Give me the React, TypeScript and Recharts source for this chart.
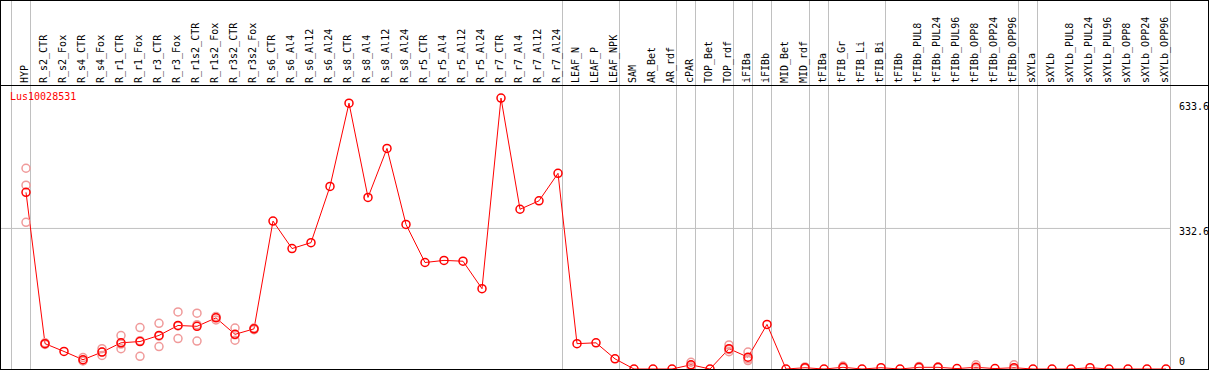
import React from 'react';
import { ComposedChart, Line, XAxis, YAxis, ReferenceLine } from 'recharts';

const title = 'Lus10028531';

const categories = [
  'HYP', 'R_s2_CTR', 'R_s2_Fox', 'R_s4_CTR', 'R_s4_Fox', 'R_r1_CTR', 'R_r1_Fox', 'R_r3_CTR', 'R_r3_Fox',
  'R_r1s2_CTR', 'R_r1s2_Fox', 'R_r3s2_CTR', 'R_r3s2_Fox', 'R_s6_CTR', 'R_s6_Al4', 'R_s6_Al12', 'R_s6_Al24',
  'R_s8_CTR', 'R_s8_Al4', 'R_s8_Al12', 'R_s8_Al24', 'R_r5_CTR', 'R_r5_Al4', 'R_r5_Al12', 'R_r5_Al24',
  'R_r7_CTR', 'R_r7_Al4', 'R_r7_Al12', 'R_r7_Al24', 'LEAF_N', 'LEAF_P', 'LEAF_NPK', 'SAM', 'AR_Bet', 'AR_rdf',
  'cPAR', 'TOP_Bet', 'TOP_rdf', 'iFIBa', 'iFIBb', 'MID_Bet', 'MID_rdf', 'tFIBa', 'tFIB_Gr', 'tFIB_Li', 'tFIB_Bi',
  'tFIBb', 'tFIBb_PUL8', 'tFIBb_PUL24', 'tFIBb_PUL96', 'tFIBb_OPP8', 'tFIBb_OPP24', 'tFIBb_OPP96',
  'sXYLa', 'sXYLb', 'sXYLb_PUL8', 'sXYLb_PUL24', 'sXYLb_PUL96', 'sXYLb_OPP8', 'sXYLb_OPP24', 'sXYLb_OPP96',
];

const means = [
  418, 60, 41.5, 22, 40, 62, 65, 79.5, 103, 101, 121, 82, 95, 350, 285, 299, 432,
  629, 406, 522, 342, 252, 257, 255, 190, 641, 378, 398, 463, 60, 62, 24, 0, 0, 0,
  10, 0, 48, 28, 105.5, 0, 3, 0, 4, 0, 3,
  0, 4, 4, 1, 4, 1, 3,
  0, 0, 0, 3, 0, 0, 0, 0,
];

const rep1 = [
  475, 62, null, 27, 48, 79, 98, 108, 135, 132, 124, 97, 97, null, null, null, null,
  null, null, null, null, null, null, null, null, null, null, null, null, null, null, null, null, null, null,
  16, null, 57, 40, null, null, 5, null, 7, null, null,
  null, 6, 5, null, 10, null, 10,
  null, null, null, null, null, null, null, null,
];
const rep2 = [
  435, 58, null, 20, 32, 48, 30, 53, 72, 66, 116, 68, 93, null, null, null, null,
  null, null, null, null, null, null, null, null, null, null, null, null, null, null, null, null, null, null,
  5, null, 41, 20, null, null, 2, null, 3, null, null,
  null, 3, 4, null, 1, null, 0,
  null, null, null, null, null, null, null, null,
];
const rep3 = [
  347, 60, null, 19, 40, 59, 67, 78, 102, 105, 123, 81, 95, null, null, null, null,
  null, null, null, null, null, null, null, null, null, null, null, null, null, null, null, null, null, null,
  9, null, 46, 24, null, null, 2, null, 2, null, null,
  null, 3, 3, null, 1, null, 0,
  null, null, null, null, null, null, null, null,
];

const yTicks = [0, 332.6, 633.6];
const groupEnds = [-1, 0, 28, 31, 34, 35, 37, 38, 39, 41, 42, 45, 52, 53, 60];

const data = categories.map((name, i) => ({
  x: i,
  name,
  mean: means[i],
  r1: rep1[i],
  r2: rep2[i],
  r3: rep3[i],
}));

const FONT = '"DejaVu Sans Mono", monospace';
const RED = '#ff0000';
const PINK = '#f09a9a';
const GRID = '#c0c0c0';

const W = 1209;
const H = 370;

const XTick = (props: any) => {
  const { x, payload } = props;
  return (
    <text
      x={0}
      y={0}
      transform={`translate(${x + 2},83) rotate(-90)`}
      textAnchor="start"
      fontFamily={FONT}
      fontSize={10}
      fill="#000"
    >
      {categories[payload.value]}
    </text>
  );
};

const YTick = (props: any) => {
  const { x, y, payload } = props;
  const dy = payload.value === 0 ? -4 : payload.value > 500 ? 9 : 7;
  return (
    <text x={x + 2} y={y + dy} textAnchor="start" fontFamily={FONT} fontSize={10} fill="#000">
      {String(payload.value)}
    </text>
  );
};

const SepLine = (props: any) => {
  const { x1 } = props;
  if (typeof x1 !== 'number') return null;
  const xx = Math.floor(x1) + 0.5;
  return <line x1={xx} x2={xx} y1={0} y2={H - 1} stroke={GRID} strokeWidth={1} />;
};

const repDot = { r: 4, stroke: PINK, strokeWidth: 1.5, fill: 'none' };

export default function App() {
  return (
    <div style={{ position: 'absolute', left: 0, top: 0, width: W, height: H, background: '#fff' }}>
      <ComposedChart
        width={W}
        height={H}
        data={data}
        margin={{ top: 0, right: 1, bottom: 1, left: 1 }}
      >
        <XAxis
          xAxisId={0}
          dataKey="x"
          type="number"
          orientation="top"
          domain={[-25 / 19, 1145 / 19]}
          allowDataOverflow
          ticks={categories.map((_, i) => i)}
          interval={0}
          height={85}
          axisLine={false}
          tickLine={false}
          tick={<XTick />}
        />
        <YAxis
          yAxisId={0}
          orientation="right"
          domain={[0, 672]}
          allowDataOverflow
          ticks={yTicks}
          interval={0}
          width={37}
          axisLine={false}
          tickLine={false}
          tickMargin={0}
          tick={<YTick />}
        />
        <ReferenceLine y={332.6} stroke={GRID} strokeWidth={1} />
        {groupEnds.map((g) => (
          <ReferenceLine key={g} x={g + 0.25} shape={<SepLine />} />
        ))}
        <Line dataKey="r1" stroke="none" dot={repDot} activeDot={false} isAnimationActive={false} legendType="none" />
        <Line dataKey="r2" stroke="none" dot={repDot} activeDot={false} isAnimationActive={false} legendType="none" />
        <Line dataKey="r3" stroke="none" dot={repDot} activeDot={false} isAnimationActive={false} legendType="none" />
        <Line
          dataKey="mean"
          stroke={RED}
          strokeWidth={1}
          dot={{ r: 4, stroke: RED, strokeWidth: 1.5, fill: 'none' }}
          activeDot={false}
          isAnimationActive={false}
        />
      </ComposedChart>
      <div
        style={{
          position: 'absolute', left: 0, top: 85, width: W, height: 1, background: '#000',
        }}
      />
      <div
        style={{
          position: 'absolute', left: 0, top: 0, width: W, height: H, boxSizing: 'border-box',
          border: '1px solid #000', pointerEvents: 'none',
        }}
      />
      <div
        style={{
          position: 'absolute', left: 10, top: 91, fontFamily: FONT, fontSize: 10, lineHeight: '12px',
          color: RED, whiteSpace: 'nowrap',
        }}
      >
        {title}
      </div>
    </div>
  );
}
